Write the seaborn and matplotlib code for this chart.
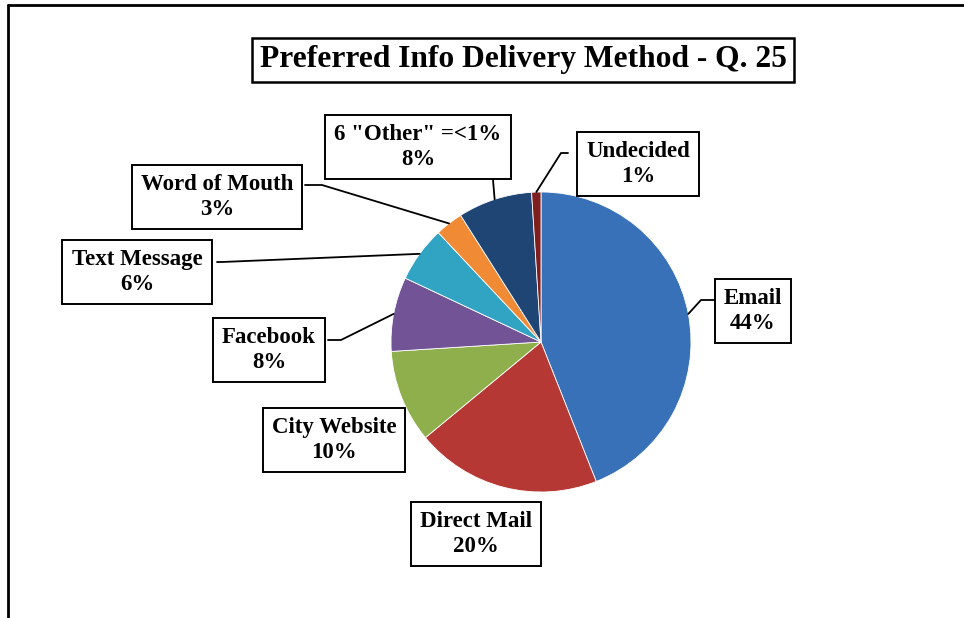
import matplotlib.pyplot as plt
from matplotlib.lines import Line2D
import numpy as np
import seaborn as sns

methods = ['Email', 'Direct Mail', 'City Website', 'Facebook', 'Text Message',
           'Word of Mouth', '6 "Other" =<1%', 'Undecided']
shares = [44, 20, 10, 8, 6, 3, 8, 1]
slice_colors = ['#3871B8', '#B63835', '#8EAF4B', '#715396', '#31A4C3',
                '#F08A35', '#1E4574', '#7E1E1E']

sns.set_style('white')
plt.rcParams['font.family'] = ['Liberation Serif', 'DejaVu Serif']

W, H = 964, 618
cx, cy, R = 541, 342, 150  # pie centre / radius in pixels

fig = plt.figure(figsize=(W / 100, H / 100), dpi=100)
ax = fig.add_axes([0, 0, 1, 1])


def px(x, y):
    # pixel position -> data coords (pie radius = 1)
    return (x - cx) / R, (cy - y) / R


wedges, _ = ax.pie(shares, colors=sns.color_palette(slice_colors), startangle=90,
                   counterclock=False, radius=1,
                   wedgeprops=dict(linewidth=0.6, edgecolor='white'))
ax.set_xlim(-cx / R, (W - cx) / R)
ax.set_ylim(-(H - cy) / R, cy / R)
ax.set_aspect('equal')
ax.axis('off')

# label box centres (pixels) and leader-line elbows: (box edge, elbow) or None
label_pos = {
    'Email': ((753, 311), [(714, 300), (701, 300)]),
    'Direct Mail': ((476, 534), None),
    'City Website': ((334, 440), None),
    'Facebook': ((269, 350), [(328, 340), (341, 340)]),
    'Text Message': ((137, 272), [(217, 262), (222, 262)]),
    'Word of Mouth': ((217, 197), [(305, 185), (322, 185)]),
    '6 "Other" =<1%': ((418, 147), [(493, 177), (493, 180)]),
    'Undecided': ((638, 164), [(568, 153), (561, 153)]),
}

box = dict(boxstyle='square,pad=0.4', facecolor='white', edgecolor='black', linewidth=1.4)
for w, name, val in zip(wedges, methods, shares):
    (bx, by), elbow = label_pos[name]
    if elbow is not None:
        mid = np.deg2rad((w.theta1 + w.theta2) / 2)
        pts = [px(*p) for p in elbow] + [(np.cos(mid), np.sin(mid))]
        ax.plot([p[0] for p in pts], [p[1] for p in pts], color='black', lw=1.3, zorder=1)
    ax.text(*px(bx, by), f'{name}\n{val}%', ha='center', va='center', fontsize=16.5,
            fontweight='bold', linespacing=1.2, color='black', bbox=box, zorder=5)

ax.text(*px(523, 60), 'Preferred Info Delivery Method - Q. 25', ha='center', va='center',
        fontsize=22.7, fontweight='bold', color='black',
        bbox=dict(boxstyle='square,pad=0.25', facecolor='white', edgecolor='black', linewidth=1.8))

# outer frame (top and left only)
fig.add_artist(Line2D([8 / W, 1], [1 - 5 / H, 1 - 5 / H], color='black', lw=2))
fig.add_artist(Line2D([8 / W, 8 / W], [0, 1 - 5 / H], color='black', lw=2))

fig.savefig('out.png', dpi=100)
